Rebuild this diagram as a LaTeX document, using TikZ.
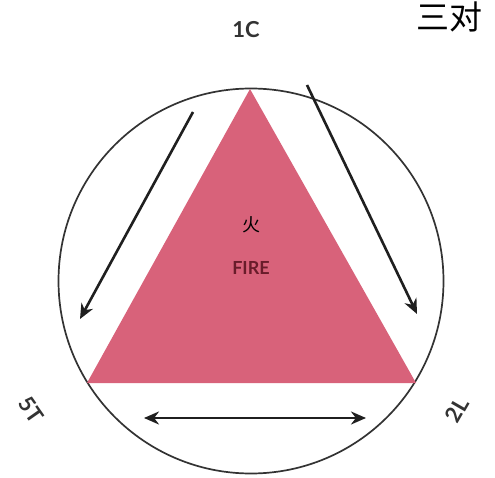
\documentclass[tikz,border=0pt]{standalone}
\usepackage{fontspec}
\newfontfamily\cjk{Noto Sans CJK SC}
\newfontfamily\labfont{Lato}
\usetikzlibrary{arrows.meta}
\definecolor{firepink}{RGB}{216,98,122}
\definecolor{firetext}{RGB}{105,28,42}
\tikzset{
  tip/.tip={Stealth[length=15pt,width=13pt]},
  flow/.style={line width=2.6pt, draw=black!88, -tip},
  corner/.style={font=\labfont\bfseries\fontsize{22}{22}\selectfont, text=black!80, inner sep=1pt},
}
\begin{document}
\begin{tikzpicture}[x=1pt,y=-1pt]
\useasboundingbox (0,0) rectangle (495,478);
\fill[white] (0,0) rectangle (495,478);
\node[draw=black!80, line width=1.7pt, circle, minimum size=385pt, inner sep=0pt] (circ) at (251,281) {};
\coordinate (top) at (250,89);
\coordinate (bl) at (87,383);
\coordinate (br) at (416,383);
\fill[firepink] (top) -- (br) -- (bl) -- cycle;
\node[font=\cjk\fontsize{18}{18}\selectfont] (huo) at (251,225) {火};
\node[font=\labfont\bfseries\fontsize{18}{18}\selectfont, text=firetext] (fire) at (251,268) {FIRE};
\coordinate (a1s) at (193,112);
\coordinate (a1e) at (80,319);
\coordinate (a2s) at (307,85);
\coordinate (a2e) at (417,314);
\coordinate (a3s) at (144,418);
\coordinate (a3e) at (366,418);
\draw[flow] (a1s) -- (a1e);
\draw[flow] (a2s) -- (a2e);
\draw[flow, tip-tip] (a3s) -- (a3e);
\node[corner] (c1) at (246,30) {1C};
\node[corner, rotate=-55] (c5) at (31,410) {5T};
\node[corner, rotate=60] (c2) at (457,410) {2L};
\node[font=\cjk\fontsize{33}{33}\selectfont, anchor=west, inner sep=0pt] (title) at (416,17) {三对};
\end{tikzpicture}
\end{document}
